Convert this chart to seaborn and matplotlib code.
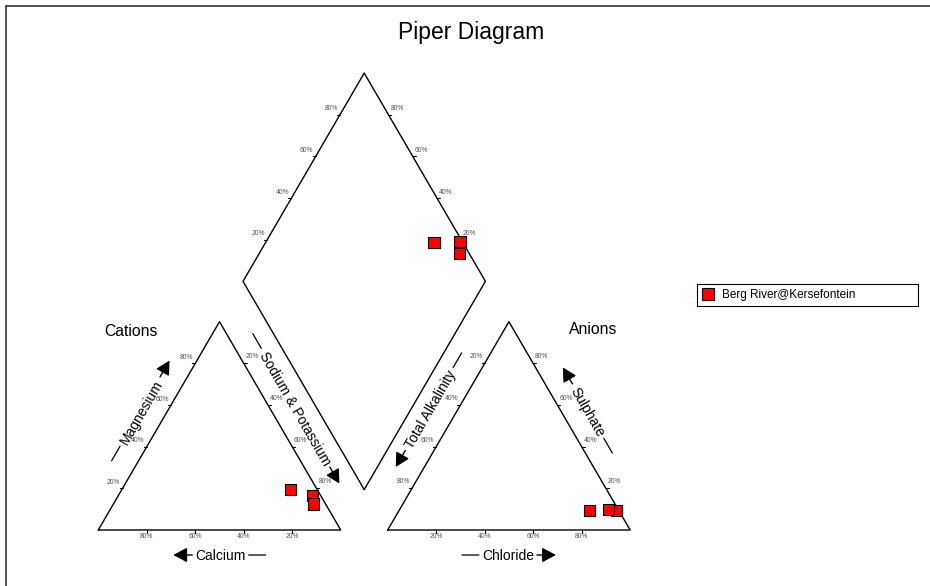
import numpy as np
import pandas as pd
import matplotlib
matplotlib.use("Agg")
import matplotlib.pyplot as plt
from matplotlib.lines import Line2D
import seaborn as sns

# ---------------- data (percent of meq) ----------------
site = "Berg River@Kersefontein"
calcium = [11.0, 3.5, 5.0]
magnesium = [19.5, 16.5, 12.5]
sodium_potassium = [69.5, 80.0, 82.5]
alkalinity = [12.0, 1.0, 4.0]
sulphate = [9.5, 9.5, 10.0]
chloride = [78.5, 89.5, 86.0]
tick_pcts = [20, 40, 60, 80]
tick_labels = ["20%", "40%", "60%", "80%"]

# ---------------- geometry ----------------
H = np.sqrt(3) / 2
G = 0.194           # gap between triangles (fraction of side)
SX, SY = 242.4, 240.5   # pixels per unit
OX, OY = 98.3, 530.0    # pixel position of cation left vertex (from top)
W, HH = 930, 586

sns.set_style("white")
plt.rcParams["font.family"] = ["Liberation Sans", "DejaVu Sans"]
plt.rcParams["text.color"] = "black"

fig = plt.figure(figsize=(W / 100, HH / 100), dpi=100)
ax = fig.add_axes([0, 0, 1, 1])
ax.set_xlim(-OX / SX, (W - OX) / SX)
ax.set_ylim(-(HH - OY) / SY, OY / SY)
ax.axis("off")

def cat_xy(nak, mg):
    return nak / 100 + mg / 200, mg / 100 * H

def an_xy(cl, so4):
    return 1 + G + cl / 100 + so4 / 200, so4 / 100 * H

def diamond_xy(p1, p2):
    x1, y1 = p1
    x2, y2 = p2
    s = (x2 - x1) + (y2 - y1) / (2 * H)
    return x1 + 0.5 * s, y1 + H * s

rows = []
for i in range(len(calcium)):
    c = cat_xy(sodium_potassium[i], magnesium[i])
    a = an_xy(chloride[i], sulphate[i])
    d = diamond_xy(c, a)
    for (x, y) in (c, a, d):
        rows.append({"x": x, "y": y, "Site": site})
df = pd.DataFrame(rows)

# outlines
lc = "black"
lw = 1.0
cat_tri = np.array([[0, 0], [1, 0], [0.5, H], [0, 0]])
an_tri = cat_tri + np.array([1 + G, 0])
L = np.array([0.5 + G / 2, H * (1 + G)])
R = np.array([1.5 + G / 2, H * (1 + G)])
T = np.array([1 + G / 2, H * (2 + G)])
B = np.array([1 + G / 2, H * G])
dia = np.array([B, L, T, R, B])
for poly in (cat_tri, an_tri, dia):
    ax.plot(poly[:, 0], poly[:, 1], color=lc, lw=lw, zorder=2)

# ticks and tick labels
tick_fs = 4.9
tick_col = "#555555"
tl = 3.0  # tick length px

def tick(pt, dxp, dyp, lab, lx, ly):
    x, y = pt
    ax.plot([x, x + dxp / SX], [y, y + dyp / SY], color=lc, lw=0.8, zorder=2)
    ax.annotate(lab, xy=(x, y), xytext=(lx * 0.72, ly * 0.72),
                textcoords="offset points", ha="center", va="center",
                fontsize=tick_fs, color=tick_col)

for p, lab in zip(tick_pcts, tick_labels):
    f = p / 100
    # cation bottom (calcium, 100% at left)
    tick((1 - f, 0), 0, -tl, lab, 0, -7)
    # cation left (magnesium)
    tick((f / 2, f * H), -tl, 0, lab, -9, 6)
    # cation right (sodium & potassium)
    tick((f + (1 - f) / 2, (1 - f) * H), tl, 0, lab, 8.5, 6.5)
    # anion bottom (chloride)
    tick((1 + G + f, 0), 0, -tl, lab, 0, -7)
    # anion left (alkalinity)
    tick((1 + G + (1 - f) / 2, (1 - f) * H), -tl, 0, lab, -8.5, 6.5)
    # anion right (sulphate)
    tick((1 + G + (1 - f) + f / 2, f * H), tl, 0, lab, 8.5, 6.5)
    # diamond upper left
    pl = L + f * (T - L)
    tick(tuple(pl), -tl, 0, lab, -9, 6)
    # diamond upper right
    pr = R + f * (T - R)
    tick(tuple(pr), tl, 0, lab, 8.5, 6)

# data points
sns.scatterplot(data=df, x="x", y="y", hue="Site", palette=["#ff0000"],
                marker="s", s=66, edgecolor="black", linewidth=0.8,
                ax=ax, zorder=5, legend=False)
ax.set_xlim(-OX / SX, (W - OX) / SX)
ax.set_ylim(-(HH - OY) / SY, OY / SY)

# ---------------- axis names with arrows ----------------
lab_fs = 10
renderer = fig.canvas.get_renderer()

def text_width(s):
    t = fig.text(0, 0, s, fontsize=lab_fs)
    w = t.get_window_extent(renderer).width
    t.remove()
    return w

def to_px(pt):
    return np.array(ax.transData.transform(pt))

def axis_name(center, angle, text, arrow_first, dash_len=17, arrow_len=19, gap=4):
    c = np.array(center, dtype=float)
    d = np.array([np.cos(np.radians(angle)), np.sin(np.radians(angle))])
    tw = text_width(text)
    first = arrow_len if arrow_first else dash_len
    last = dash_len if arrow_first else arrow_len
    total = first + gap + tw + gap + last
    start = c - d * total / 2
    a0 = start
    a1 = start + d * first
    tcen = a1 + d * (gap + tw / 2)
    b0 = a1 + d * (gap + tw + gap)
    b1 = b0 + d * last
    ax.annotate(text, xy=tuple(tcen), xycoords="figure pixels",
                rotation=angle, rotation_mode="anchor", ha="center",
                va="center_baseline", fontsize=lab_fs, color="black")
    aprops = dict(arrowstyle="-|>,head_length=0.6,head_width=0.32",
                  color="black", lw=1.0, mutation_scale=14,
                  shrinkA=0, shrinkB=0)
    dprops = dict(arrowstyle="-", color="black", lw=0.9,
                  shrinkA=0, shrinkB=0)
    if arrow_first:
        ax.annotate("", xy=tuple(a0), xytext=tuple(a1), xycoords="figure pixels",
                    arrowprops=aprops)
        ax.annotate("", xy=tuple(b1), xytext=tuple(b0), xycoords="figure pixels",
                    arrowprops=dprops)
    else:
        ax.annotate("", xy=tuple(a1), xytext=tuple(a0), xycoords="figure pixels",
                    arrowprops=dprops)
        ax.annotate("", xy=tuple(b1), xytext=tuple(b0), xycoords="figure pixels",
                    arrowprops=aprops)

def edge_center(p0, p1, normal_out, off, along):
    m = (to_px(p0) + to_px(p1)) / 2
    d = to_px(p1) - to_px(p0)
    d = d / np.linalg.norm(d)
    return m + np.array(normal_out) * off + d * along

# calcium: below cation bottom
cb = (to_px((0, 0)) + to_px((1, 0))) / 2 + np.array([0, -25])
axis_name(cb, 0, "Calcium", arrow_first=True, gap=3)
# chloride: below anion bottom
ab = (to_px((1 + G, 0)) + to_px((2 + G, 0))) / 2 + np.array([0, -25])
axis_name(ab, 0, "Chloride", arrow_first=False, gap=3)
n_left = np.array([-H, 0.5])
n_right = np.array([H, 0.5])
# magnesium: along cation left edge (reading up)
mc = edge_center((0, 0), (0.5, H), n_left, 23.5, 4)
axis_name(mc, 60, "Magnesium", arrow_first=False)
# sodium & potassium: along cation right edge (reading down)
sc = edge_center((0.5, H), (1, 0), n_right, 22.5, -7)
axis_name(sc, -60, "Sodium & Potassium", arrow_first=False)
# total alkalinity: along anion left edge (reading up)
tc = edge_center((1 + G, 0), (1.5 + G, H), n_left, 25, 4)
axis_name(tc, 60, "Total Alkalinity", arrow_first=True)
# sulphate: along anion right edge (reading down)
suc = edge_center((1.5 + G, H), (2 + G, 0), n_right, 23.5, -4.5)
axis_name(suc, -60, "Sulphate", arrow_first=True)

# triangle titles
fig.text(131 / W, 1 - 331 / HH, "Cations", fontsize=11.3, ha="center", va="center",
         color="black")
fig.text(593.5 / W, 1 - 330 / HH, "Anions", fontsize=11.3, ha="center", va="center",
         color="black")

# title
fig.text(471.5 / W, 1 - 33 / HH, "Piper Diagram", fontsize=16.5, ha="center",
         va="center", color="black")

# legend
handle = Line2D([], [], marker="s", ls="", markerfacecolor="#ff0000",
                markeredgecolor="black", markeredgewidth=0.8, markersize=9)
leg = ax.legend([handle], [site], loc="center left", mode="expand",
                bbox_to_anchor=(697 / W, 1 - 307 / HH, 221 / W, 24 / HH),
                bbox_transform=fig.transFigure, fontsize=8.5,
                frameon=True, fancybox=False, framealpha=1,
                edgecolor="black", handlelength=1.0, handletextpad=0.7,
                borderpad=0.45, borderaxespad=0, labelcolor="black")
leg.get_frame().set_linewidth(0.8)

# page frame (top and left border)
fig.add_artist(Line2D([6 / W, 1], [1 - 6 / HH, 1 - 6 / HH], color="#333333", lw=1.2,
                      transform=fig.transFigure))
fig.add_artist(Line2D([6 / W, 6 / W], [1 - 6 / HH, 0], color="#333333", lw=1.2,
                      transform=fig.transFigure))

fig.savefig("out.png", dpi=100)
